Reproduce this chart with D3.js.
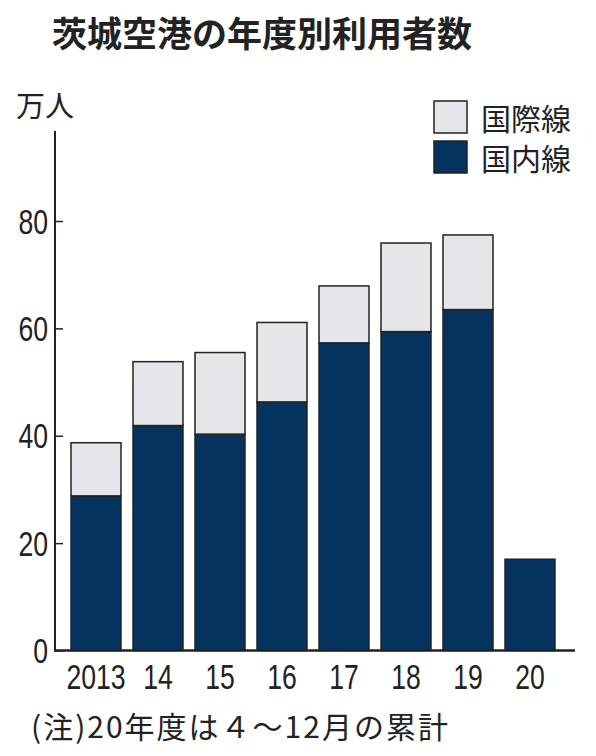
<!DOCTYPE html>
<html lang="ja">
    <head>
        <meta charset="utf-8">
        <title>茨城空港の年度別利用者数</title>
        <script type="text/javascript" src="https://d3js.org/d3.v7.min.js"></script>
        <style type="text/css">
            body { margin: 0; background: #fff; }
            .jp { font-family: "Noto Sans CJK JP", sans-serif; fill: #222; }
            .num { font-family: "Liberation Sans", sans-serif; fill: #222; }
        </style>
    </head>
    <body>
        <script type="text/javascript">

            // Datos (万人)
            var years = ["2013", "14", "15", "16", "17", "18", "19", "20"];
            var domestic = [28.8, 41.9, 40.3, 46.3, 57.3, 59.4, 63.5, 17.0];      // 国内線
            var international = [9.9, 11.9, 15.2, 14.8, 10.6, 16.5, 13.9, 0];   // 国際線
            var yTicks = [0, 20, 40, 60, 80];

            var w = 596;
            var h = 756;
            var navy = "#04335f";
            var grey = "#e5e6e9";
            var ink = "#222";
            var squeeze = 0.76; // numeros estrechos

            var svg = d3.select("body")
                        .append("svg")
                        .attr("width", w)
                        .attr("height", h);

            // Escalas
            var xScale = d3.scaleBand()
                            .domain(years)
                            .range([65, 561])
                            .paddingInner(0.194)
                            .paddingOuter(0.097);

            var yScale = d3.scaleLinear()
                            .domain([0, 80])
                            .range([650.5, 221]);

            // Titulo
            svg.append("text")
                .attr("class", "jp")
                .attr("x", 52)
                .attr("y", 47)
                .attr("font-size", 35)
                .attr("font-weight", "bold")
                .text("茨城空港の年度別利用者数");

            svg.append("text")
                .attr("class", "jp")
                .attr("x", 16)
                .attr("y", 117)
                .attr("font-size", 29)
                .text("万人");

            // Barras apiladas
            var bars = svg.append("g");

            bars.selectAll("rect.dom")
                .data(years)
                .enter()
                .append("rect")
                .attr("class", "dom")
                .attr("x", function(d){ return xScale(d); })
                .attr("y", function(d, i){ return yScale(domestic[i]); })
                .attr("width", xScale.bandwidth())
                .attr("height", function(d, i){ return yScale(0) - yScale(domestic[i]); })
                .attr("fill", navy)
                .attr("stroke", ink)
                .attr("stroke-width", 1.5);

            bars.selectAll("rect.intl")
                .data(years.filter(function(d, i){ return international[i] > 0; }))
                .enter()
                .append("rect")
                .attr("class", "intl")
                .attr("x", function(d){ return xScale(d); })
                .attr("y", function(d){
                    var i = years.indexOf(d);
                    return yScale(domestic[i] + international[i]);
                })
                .attr("width", xScale.bandwidth())
                .attr("height", function(d){
                    var i = years.indexOf(d);
                    return yScale(domestic[i]) - yScale(domestic[i] + international[i]);
                })
                .attr("fill", grey)
                .attr("stroke", ink)
                .attr("stroke-width", 1.5);

            // Eje Y
            var yAxis = d3.axisRight(yScale)
                            .tickValues(yTicks)
                            .tickSize(8)
                            .tickFormat("");

            var gy = svg.append("g")
                .attr("transform", "translate(55,0)")
                .call(yAxis);
            gy.select(".domain").remove();
            gy.selectAll("line").attr("stroke", ink).attr("stroke-width", 1.5);

            svg.append("line")
                .attr("x1", 55).attr("x2", 55)
                .attr("y1", 131).attr("y2", yScale(0))
                .attr("stroke", ink)
                .attr("stroke-width", 2);

            svg.selectAll("text.ylab")
                .data(yTicks)
                .enter()
                .append("text")
                .attr("class", "num ylab")
                .attr("transform", function(d){
                    return "translate(48," + (yScale(d) + 12.5) + ") scale(" + squeeze + ",1)";
                })
                .attr("text-anchor", "end")
                .attr("font-size", 35)
                .text(function(d){ return d; });

            // Eje X
            svg.append("line")
                .attr("x1", 54).attr("x2", 575)
                .attr("y1", yScale(0)).attr("y2", yScale(0))
                .attr("stroke", ink)
                .attr("stroke-width", 2.5);

            svg.selectAll("text.xlab")
                .data(years)
                .enter()
                .append("text")
                .attr("class", "num xlab")
                .attr("transform", function(d){
                    return "translate(" + (xScale(d) + xScale.bandwidth() / 2) + ",688.5) scale(" + squeeze + ",1)";
                })
                .attr("text-anchor", "middle")
                .attr("font-size", 35)
                .text(function(d){ return d; });

            // Leyenda
            var legend = [
                { label: "国際線", color: grey },
                { label: "国内線", color: navy }
            ];

            var lg = svg.selectAll("g.legend")
                .data(legend)
                .enter()
                .append("g")
                .attr("class", "legend")
                .attr("transform", function(d, i){ return "translate(434," + (101 + i * 40) + ")"; });

            lg.append("rect")
                .attr("width", 33)
                .attr("height", 32)
                .attr("fill", function(d){ return d.color; })
                .attr("stroke", ink)
                .attr("stroke-width", 1.5);

            lg.append("text")
                .attr("class", "jp")
                .attr("x", 47)
                .attr("y", 29)
                .attr("font-size", 30)
                .text(function(d){ return d.label; });

            // Nota
            svg.append("text")
                .attr("class", "jp")
                .attr("x", 31)
                .attr("y", 738)
                .attr("font-size", 30)
                .attr("letter-spacing", 2)
                .text("(注)20年度は４～12月の累計");

        </script>
    </body>
</html>
